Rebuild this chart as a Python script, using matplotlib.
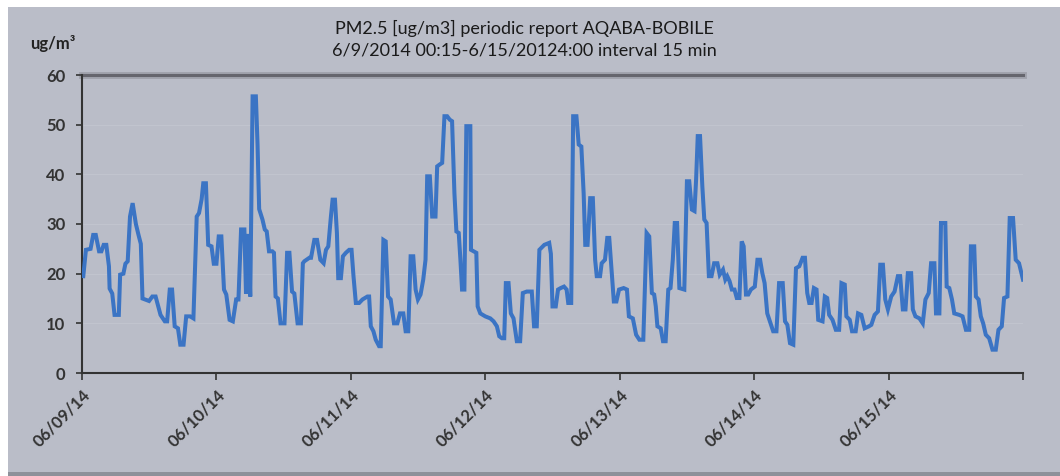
import numpy as np
import matplotlib
matplotlib.use("Agg")
import matplotlib.pyplot as plt
import pandas as pd
from matplotlib.patches import Rectangle

# hours after 6/9/2014 00:00 and PM2.5 readings (ug/m3)
hours = [0.23, 0.7, 1.53, 2.0, 2.46, 3.05, 3.46, 3.87, 4.34, 4.81, 4.93, 5.4, 5.81, 6.57, 6.81, 7.39,
         7.75, 8.16, 8.57, 9.04, 9.62, 10.09, 10.5, 10.8, 11.27, 11.97, 12.56, 13.14, 13.61, 14.02,
         14.79, 15.2, 15.67, 16.08, 16.55, 17.13, 17.55, 18.13, 18.6, 19.31, 19.89, 20.48, 20.89,
         21.36, 21.65, 22.12, 22.53, 23.12, 23.53, 24.0, 24.41, 24.88, 25.35, 25.76, 26.35, 26.93,
         27.52, 27.93, 28.4, 28.99, 29.28, 29.69, 30.04, 30.46, 31.04, 31.34, 31.63, 32.22, 32.63,
         32.98, 33.39, 33.98, 34.27, 34.56, 34.97, 35.44, 36.15, 36.62, 37.03, 37.5, 37.91, 38.49,
         39.08, 39.43, 39.7, 40.59, 40.89, 41.48, 41.96, 42.55, 43.14, 43.56, 43.97, 44.44, 44.74,
         45.16, 45.51, 45.75, 46.22, 46.58, 47.11, 47.7, 48.12, 48.47, 48.89, 49.48, 50.07, 50.96,
         51.26, 51.56, 52.03, 52.44, 53.04, 53.33, 53.81, 54.22, 54.64, 55.11, 55.7, 56.3, 56.77,
         57.36, 57.78, 58.25, 58.67, 59.14, 59.56, 59.97, 60.44, 60.92, 61.33, 61.63, 62.1, 62.52,
         63.11, 63.41, 63.88, 64.3, 64.71, 65.19, 65.66, 66.07, 66.49, 66.84, 67.26, 67.56, 67.85,
         68.27, 68.62, 69.33, 69.45, 69.93, 70.4, 70.64, 71.11, 72.0, 72.89, 73.48, 74.07, 74.49,
         74.96, 75.38, 75.67, 76.15, 76.56, 77.04, 77.63, 78.22, 78.7, 79.41, 80.3, 80.71, 81.19,
         81.66, 82.54, 83.41, 83.71, 84.0, 84.58, 84.99, 85.46, 86.05, 86.52, 86.81, 87.34, 87.69,
         88.27, 88.68, 89.15, 89.56, 89.85, 90.26, 90.73, 91.2, 91.61, 91.9, 92.49, 92.78, 93.37,
         93.78, 94.13, 94.54, 94.95, 95.41, 95.88, 96.7, 97.29, 97.64, 98.34, 98.93, 99.51, 100.21,
         100.8, 101.27, 101.74, 102.15, 102.44, 102.73, 103.32, 103.73, 104.2, 104.67, 105.07,
         105.48, 105.83, 106.24, 106.65, 107.53, 107.71, 108.0, 108.41, 108.88, 109.35, 109.64,
         109.93, 110.34, 110.75, 111.1, 111.51, 111.92, 112.39, 112.86, 113.44, 113.85, 114.44,
         114.85, 115.2, 115.61, 116.02, 116.49, 116.9, 117.37, 117.78, 118.13, 118.54, 118.95,
         119.42, 120.12, 120.59, 121.06, 121.46, 121.87, 122.34, 122.81, 123.4, 123.98, 124.45,
         125.1, 125.51, 125.93, 126.4, 126.99, 127.47, 128.06, 128.65, 129.07, 129.48, 129.84,
         130.25, 130.67, 131.14, 131.44, 132.21, 132.62, 133.04, 133.39, 133.99, 134.58, 135.17,
         135.59, 136.18, 136.47, 137.07, 137.48, 138.13, 138.55, 139.14, 139.73, 140.5, 140.92,
         141.51, 142.1, 142.52, 142.99, 143.41, 143.88, 144.47, 145.07, 145.66, 146.07, 146.55,
         147.02, 147.44, 148.03, 148.33, 148.8, 149.51, 150.1, 150.58, 151.17, 151.59, 152.18,
         152.47, 153.07, 153.36, 154.13, 154.37, 154.84, 155.32, 155.73, 156.62, 157.21, 157.81,
         158.4, 158.7, 159.29, 159.59, 160.06, 160.47, 160.89, 161.36, 161.96, 162.55, 163.14,
         163.62, 164.21, 164.62, 165.22, 165.63, 166.22, 166.7, 167.29, 168.0]
pm25 = [19.5, 24.8, 25.0, 27.8, 27.8, 24.5, 24.5, 25.8, 25.8, 21.5, 17.0, 16.0, 11.7, 11.7, 19.8, 20.0,
        22.0, 22.5, 31.5, 34.2, 30.0, 27.8, 26.0, 15.0, 14.8, 14.5, 15.4, 15.4, 13.4, 11.7,
        10.4, 10.4, 16.8, 16.8, 9.4, 9.0, 5.7, 5.7, 11.4, 11.4, 11.0, 31.5, 32.2,
        35.0, 38.2, 38.2, 25.8, 25.5, 22.0, 22.0, 27.5, 27.5, 16.8, 15.8, 10.7, 10.4,
        14.8, 14.8, 28.9, 28.9, 16.0, 28.0, 15.4, 55.7, 55.7, 46.0, 33.0, 30.9, 28.9,
        28.5, 24.5, 24.5, 24.2, 15.4, 15.0, 10.0, 10.0, 24.2, 24.2, 16.4, 16.0, 10.0,
        10.0, 22.1, 22.5, 23.2, 23.2, 26.8, 26.8, 22.8, 22.1, 24.8, 25.5, 31.5, 34.9,
        34.9, 28.2, 19.1, 19.1, 23.5, 24.2, 24.8, 24.8, 19.5, 14.1, 14.1, 14.8, 15.4,
        15.4, 9.4, 8.4, 6.7, 5.4, 5.4, 26.8, 26.5, 15.4, 14.8, 10.0, 10.0, 12.0,
        12.0, 8.4, 8.4, 23.5, 23.5, 16.8, 14.8, 15.8, 18.8, 22.8, 39.6, 39.6, 31.5,
        31.5, 41.6, 42.0, 42.3, 51.7, 51.7, 51.0, 50.7, 36.2, 28.5, 28.2, 22.8, 16.8,
        16.8, 49.7, 49.7, 24.8, 24.5, 24.2, 13.4, 12.0, 11.4, 11.0, 10.4, 9.4, 7.4,
        7.0, 7.0, 18.1, 18.1, 12.0, 11.0, 6.4, 6.4, 16.1, 16.4, 16.4, 9.4, 9.4,
        24.8, 25.8, 26.2, 24.0, 13.4, 13.4, 16.8, 17.1, 17.4, 16.8, 14.1, 14.1, 51.7,
        51.7, 46.0, 45.6, 36.2, 25.8, 25.8, 35.2, 35.2, 22.8, 19.5, 19.5, 22.1, 22.8,
        27.2, 27.2, 20.8, 14.4, 14.4, 16.8, 17.1, 16.8, 11.4, 11.0, 7.7, 6.7, 6.7,
        28.2, 27.5, 16.1, 15.8, 13.4, 9.4, 9.0, 6.4, 6.4, 16.8, 17.1,
        22.8, 30.2, 30.2, 17.1, 16.8, 25.5, 38.6, 38.6, 32.9, 32.6, 39.0,
        47.7, 47.7, 37.6, 30.9, 30.2, 19.5, 19.5, 22.1, 22.1, 19.8, 20.8,
        18.8, 19.5, 18.5, 16.8, 16.8, 15.1, 15.1, 26.5, 25.5, 15.8, 15.8,
        16.8, 17.4, 22.8, 22.8, 20.1, 18.1, 12.0, 10.4, 8.4, 8.4, 18.1,
        18.1, 10.4, 9.7, 6.0, 5.7, 21.1, 21.5, 23.2, 23.2, 16.1, 14.1,
        14.1, 17.1, 16.8, 10.7, 10.4, 15.4, 15.1, 11.7, 10.7, 8.7, 8.7,
        18.1, 17.8, 11.4, 10.7, 8.4, 8.4, 12.0, 11.7, 9.0, 9.4, 9.7,
        11.7, 12.4, 21.8, 21.8, 14.8, 12.8, 15.4, 16.4, 19.5, 19.5, 12.8,
        12.8, 20.1, 20.1, 12.8, 11.4, 11.0, 10.0, 14.8, 16.1, 22.1, 22.1,
        12.0, 12.0, 30.2, 30.2, 17.4, 17.1, 14.8, 12.0, 11.7, 11.4, 8.7,
        8.7, 25.5, 25.5, 15.4, 14.8, 11.4, 10.0, 7.7, 7.0, 4.7, 4.7,
        8.7, 9.4, 15.1, 15.4, 31.2, 31.2, 22.8, 22.1, 18.8]

day_ticks = [0, 24, 48, 72, 96, 120, 144, 168]
day_labels = [d.strftime('%m/%d/%y') for d in pd.date_range('2014-06-09', periods=7)] + ['']
y_ticks = [0, 10, 20, 30, 40, 50, 60]

plt.rcParams['font.family'] = ['Lato', 'DejaVu Sans']

fig = plt.figure(figsize=(10.6, 4.76), dpi=100)
fig.patch.set_facecolor('white')

# gray slide panel behind the chart
fig.add_artist(Rectangle((8/1060, 0), 1, 1 - 7/476, transform=fig.transFigure,
                         facecolor='#babdc8', edgecolor='none', zorder=-10))
fig.add_artist(Rectangle((8/1060, 0), 1, 4/476, transform=fig.transFigure,
                         facecolor='#8e919a', edgecolor='none', zorder=-9))

ax = fig.add_axes([82/1060, 103/476, 941/1060, 298/476])
ax.set_facecolor('none')
ax.set_zorder(2)

for yv in y_ticks[1:-1]:
    ax.axhline(yv, color='#c1c4ce', lw=0.8, zorder=1)
# shadowed top gridline
ax.axhline(60, color='#8a8b94', lw=5, alpha=0.5, zorder=1, clip_on=False)
ax.axhline(60, color='#66666e', lw=2.2, zorder=2, clip_on=False)

ax.plot(hours, pm25, color='#3b74c4', lw=2.9, solid_joinstyle='miter', zorder=3)

ax.set_xlim(0, 168)
ax.set_ylim(0, 60)
ax.set_xticks(day_ticks)
ax.set_xticklabels(day_labels, rotation=45, ha='right', rotation_mode='anchor',
                   fontsize=12, fontweight='bold', color='#333333')
ax.set_yticks(y_ticks)
ax.set_yticklabels([str(v) for v in y_ticks], fontsize=12, fontweight='bold', color='#333333')
ax.tick_params(axis='x', direction='out', length=5, width=1.2, color='#333333', pad=5)
ax.tick_params(axis='y', direction='out', length=4, width=1.2, color='#333333', pad=8)

for s in ['top', 'right']:
    ax.spines[s].set_visible(False)
for s in ['left', 'bottom']:
    ax.spines[s].set_color('#333333')
    ax.spines[s].set_linewidth(1.5)

fig.text(30/1060, 1 - 44/476, 'ug/m³', fontsize=12, fontweight='bold', color='#222222',
         ha='left', va='center')
fig.text(524/1060, 1 - 28/476, 'PM2.5 [ug/m3] periodic report AQABA-BOBILE', fontsize=13,
         color='#1a1a1a', ha='center', va='center')
fig.text(524/1060, 1 - 50/476, '6/9/2014 00:15-6/15/20124:00 interval 15 min', fontsize=13,
         color='#1a1a1a', ha='center', va='center')

fig.savefig('out.png', dpi=100, facecolor=fig.get_facecolor())
